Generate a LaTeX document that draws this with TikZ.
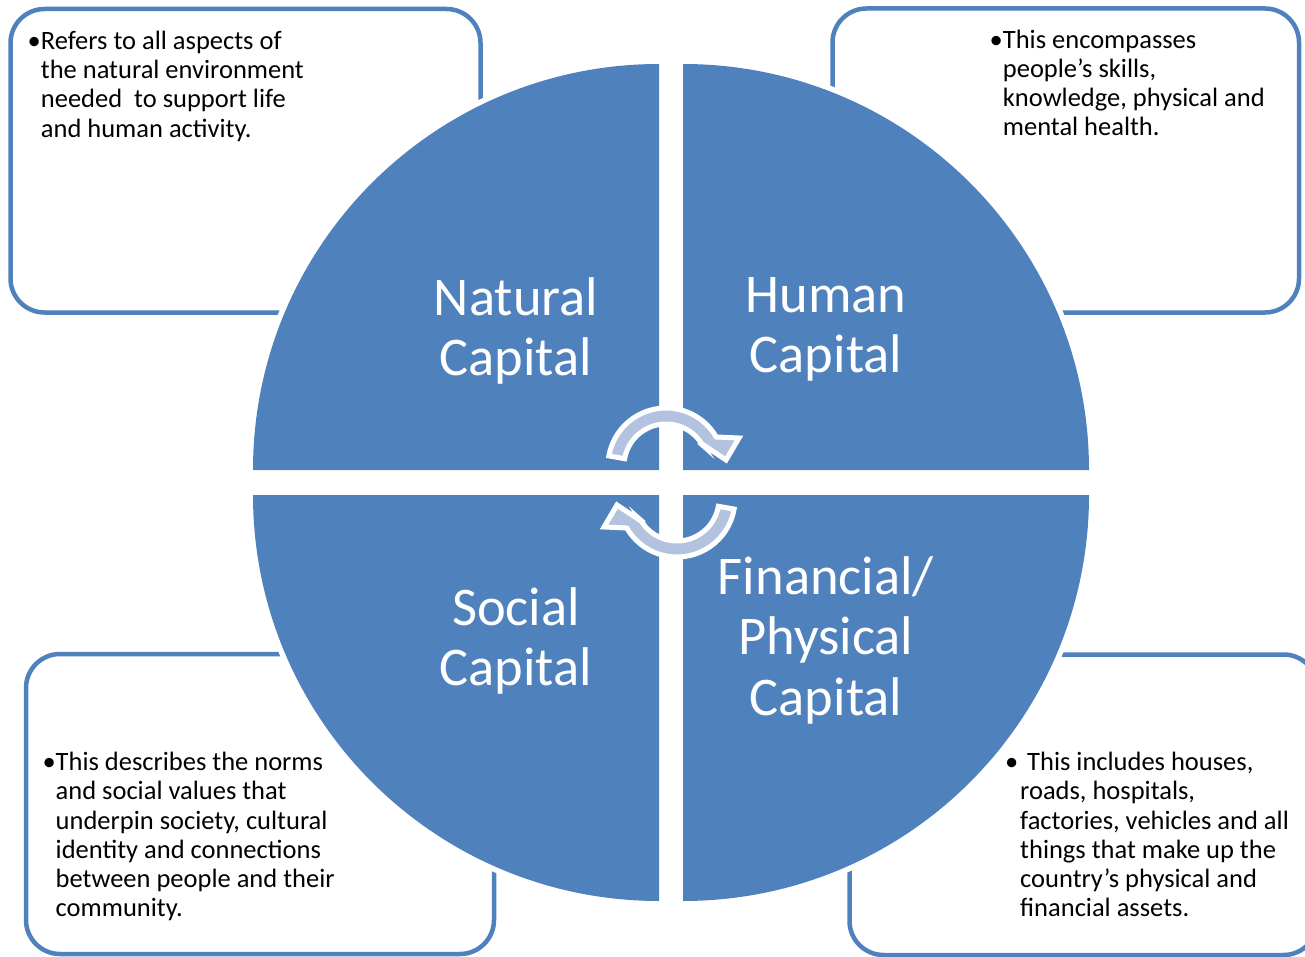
\documentclass[tikz,border=0pt]{standalone}
\usepackage{fontspec}
\setmainfont{Carlito}
\usetikzlibrary{positioning}
\definecolor{capblue}{HTML}{4F81BD}
\definecolor{arrowfill}{HTML}{B3C3DF}

\begin{document}
\begin{tikzpicture}[x=1pt,y=-1pt,
  infobox/.style={draw=capblue,line width=4.5pt,fill=white,rounded corners=34pt},
  quad/.style={fill=capblue,preaction={draw=white,line width=11pt}},
  captext/.style={text=white,align=center,anchor=north,inner sep=0pt,
    font=\fontsize{54.5}{60.8}\selectfont},
  infotext/.style={align=left,anchor=north west,inner sep=0pt,
    font=\fontsize{26.5}{29.2}\selectfont},
  cyclearrow/.style={fill=arrowfill,draw=white,line width=5pt,line join=miter}]

\useasboundingbox (0,0) rectangle (1305,957);
\clip (0,0) rectangle (1305,957);

% description boxes, behind the circle
\draw[infobox] (10.5,9) rectangle (480.5,312.5);
\draw[infobox] (832.5,8.5) rectangle (1299,312.5);
\draw[infobox] (26,654) rectangle (494,954);
\draw[infobox] (849.5,654.5) rectangle (1317.5,955);

% the four quarters
\fill[quad] (659,470) -- ++(-406,0) arc[start angle=180,end angle=270,radius=406] -- cycle;
\fill[quad] (683,470) -- ++(0,-406) arc[start angle=270,end angle=360,radius=406] -- cycle;
\fill[quad] (659,495) -- ++(-406,0) arc[start angle=180,end angle=90,radius=406] -- cycle;
\fill[quad] (683,495) -- ++(406,0) arc[start angle=0,end angle=90,radius=406] -- cycle;

% cycle arrows in the middle
\begin{scope}[shift={(666,466)}]
  \path[cyclearrow] (190:58) arc[start angle=190,end angle=330,radius=58]
    -- (73,-28) -- (60,-6) -- (33,-24) -- (330:42)
    arc[start angle=330,end angle=190,radius=42] -- cycle;
\end{scope}
\begin{scope}[shift={(677,499)},rotate=180]
  \path[cyclearrow] (190:58) arc[start angle=190,end angle=330,radius=58]
    -- (73,-28) -- (60,-6) -- (33,-24) -- (330:42)
    arc[start angle=330,end angle=190,radius=42] -- cycle;
\end{scope}

% quarter titles
\node[captext] (natural) at (516,277) {Natural\\Capital};
\node[captext] (human) at (826,277) {Human\\Capital};
\node[captext] (social) at (516,587) {Social\\Capital};
\node[captext] (financial) at (826,556) {Financial/\\Physical\\Capital};

% notes
\node[infotext] (naturalnote) at (40.7,31)
  {\llap{•}Refers to all aspects of\\the natural environment\\needed\ \ to support life\\and human activity.};
\node[infotext] (humannote) at (1002.7,29.5)
  {\llap{•}This encompasses\\people’s skills,\\knowledge, physical and\\mental health.};
\node[infotext] (socialnote) at (55.5,752)
  {\llap{•}This describes the norms\\and social values that\\underpin society, cultural\\identity and connections\\between people and their\\community.};
\node[infotext] (financialnote) at (1020,752)
  {\llap{•\hspace{2pt}}\hspace{7pt}This includes houses,\\roads, hospitals,\\factories, vehicles and all\\things that make up the\\country’s physical and\\financial assets.};
\end{tikzpicture}
\end{document}
